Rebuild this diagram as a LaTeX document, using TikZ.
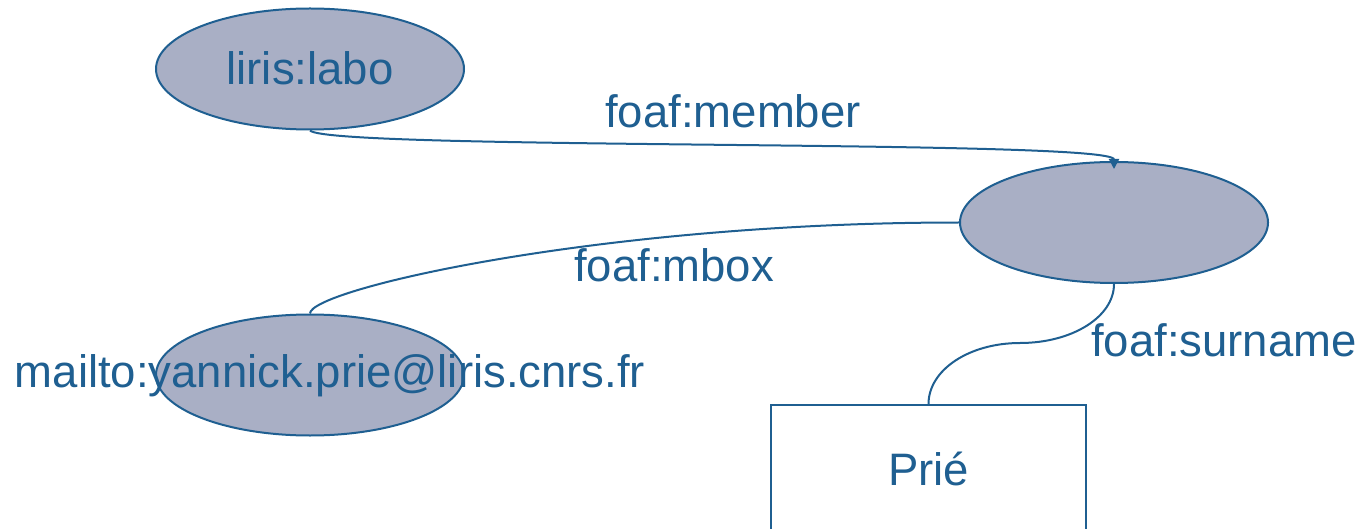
\documentclass[tikz,border=0pt]{standalone}
\usepackage{fontspec}
\setmainfont{Liberation Sans}
\usetikzlibrary{shapes.geometric,arrows.meta}
\definecolor{ink}{RGB}{31,95,145}
\definecolor{nodefill}{RGB}{169,175,197}
\begin{document}
\begin{tikzpicture}[x=1pt,y=-1pt,
  bigfont/.style={font=\fontsize{45.5}{52}\selectfont},
  res/.style={ellipse,draw=ink,fill=nodefill,line width=2pt,minimum width=308pt,minimum height=121pt,inner sep=0pt,text=ink,bigfont,text height=32pt,text depth=0pt},
  lit/.style={rectangle,draw=ink,line width=2pt,minimum width=315pt,minimum height=128pt,inner sep=0pt,text=ink,bigfont,text height=32pt,text depth=0pt},
  lbl/.style={text=ink,bigfont,inner sep=0pt,anchor=base},
  conn/.style={draw=ink,line width=2pt}]
\useasboundingbox (0,0) rectangle (1367,529);
\clip (0,0) rectangle (1367,529);
\node[res] (labo) at (310,69) {liris:labo};
\node[res] (blank) at (1114,222.5) {};
\node[res] (mail) at (310,375) {};
\node[lit,anchor=north] (prie) at (928.5,404) {Prié};
\coordinate (bend) at (1020,343);
\draw[conn,-{Triangle[length=10pt,width=10pt]},shorten >=-8pt] (labo.south) .. controls +(20,20) and +(0,-22) .. (blank.north);
\draw[conn] (blank.west) .. controls +(-360,0) and +(0,-24) .. (mail.north);
\draw[conn] (blank.south) .. controls +(0,33) and +(52,0) .. (bend) .. controls +(-51,0) and +(0,-34) .. (prie.north);
\node[lbl] (member) at (733,128) {foaf:member};
\node[lbl] (mbox) at (674,281) {foaf:mbox};
\node[lbl] (surname) at (1224,356) {foaf:surname};
\node[lbl] (mailtxt) at (330,387) {mailto:yannick.prie@liris.cnrs.fr};
\end{tikzpicture}
\end{document}
